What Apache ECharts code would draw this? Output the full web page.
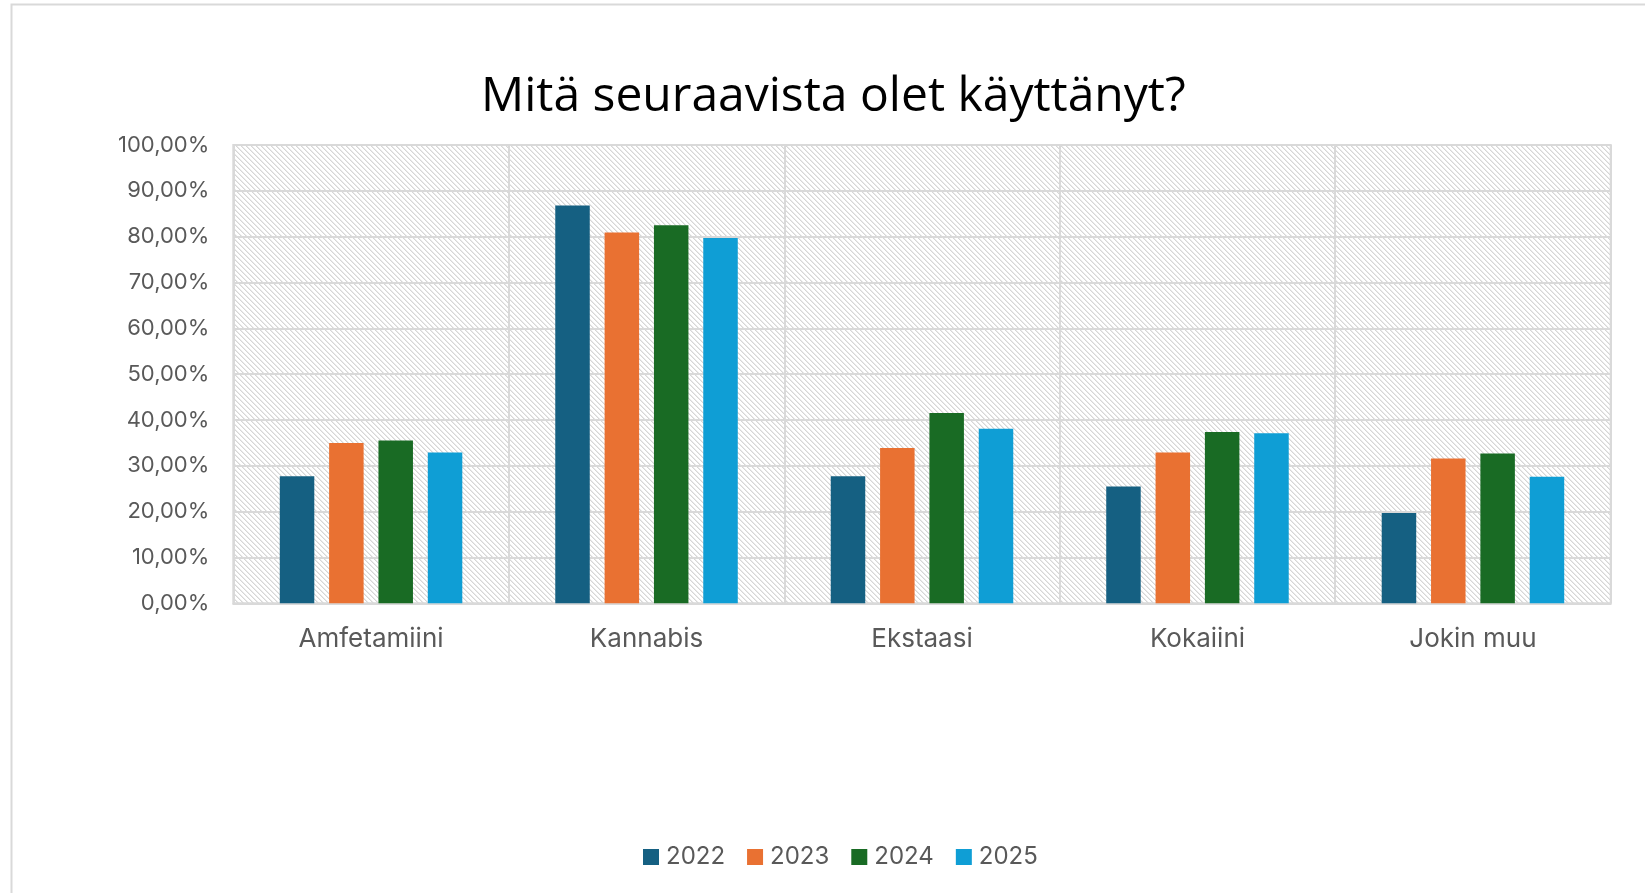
<!DOCTYPE html>
<html>
<head>
<meta charset="utf-8">
<script src="https://cdn.jsdelivr.net/npm/echarts@6/dist/echarts.min.js"></script>
<style>
  html, body { margin: 0; padding: 0; background: #ffffff; }
  #chart { width: 1645px; height: 893px; }
</style>
</head>
<body>
<div id="chart"></div>
<script>
// Survey answers by year (share of respondents, %)
const categories = ['Amfetamiini', 'Kannabis', 'Ekstaasi', 'Kokaiini', 'Jokin muu'];
const years = ['2022', '2023', '2024', '2025'];
const values2022 = [27.7, 86.8, 27.7, 25.5, 19.7];
const values2023 = [35.0, 80.9, 33.9, 32.9, 31.6];
const values2024 = [35.5, 82.5, 41.5, 37.4, 32.7];
const values2025 = [32.9, 79.7, 38.1, 37.1, 27.6];
const yearColors = ['#156082', '#E97132', '#196B24', '#0F9ED5'];

// Diagonal hatch tile for the plot background
function hatchTile() {
  const size = 5;
  const c = document.createElement('canvas');
  c.width = size; c.height = size;
  const ctx = c.getContext('2d');
  const img = ctx.createImageData(size, size);
  for (let y = 0; y < size; y++) {
    for (let x = 0; x < size; x++) {
      const d = ((x - y) % size + size) % size;
      const v = d === 0 ? 214 : (d === 1 ? 234 : 255);
      const i = (y * size + x) * 4;
      img.data[i] = v; img.data[i + 1] = v; img.data[i + 2] = v; img.data[i + 3] = 255;
    }
  }
  ctx.putImageData(img, 0, 0);
  return c;
}

const seriesValues = [values2022, values2023, values2024, values2025];
const labelFont = 'Inter, Roboto, sans-serif';
const textGrey = '#595959';
const lineGrey = '#d9d9d9';

const chart = echarts.init(document.getElementById('chart'), null, { renderer: 'canvas' });
chart.setOption({
  animation: false,
  backgroundColor: '#ffffff',
  title: {
    text: 'Mitä seuraavista olet käyttänyt?',
    left: 481,
    top: 69,
    padding: 0,
    textStyle: {
      fontFamily: '"Open Sans", "Noto Sans", sans-serif',
      fontSize: 48,
      fontWeight: 'normal',
      color: '#000000',
      lineHeight: 56
    }
  },
  graphic: [{
    type: 'rect',
    silent: true,
    shape: { x: 11.5, y: 4.5, width: 1700, height: 1000 },
    style: { fill: 'none', stroke: lineGrey, lineWidth: 2 }
  }],
  legend: {
    data: years,
    left: 643,
    top: 845,
    padding: 0,
    icon: 'rect',
    itemWidth: 16,
    itemHeight: 16,
    itemGap: 22,
    textStyle: {
      fontFamily: labelFont,
      fontSize: 24,
      lineHeight: 24,
      color: textGrey,
      padding: [0, 0, 0, 2]
    }
  },
  grid: {
    left: 233.3,
    top: 145,
    right: 34.3,
    bottom: 289.7,
    show: true,
    backgroundColor: { image: hatchTile(), repeat: 'repeat' },
    borderColor: lineGrey,
    borderWidth: 2,
    containLabel: false
  },
  xAxis: {
    type: 'category',
    data: categories,
    axisLine: { show: true, lineStyle: { color: lineGrey, width: 2 } },
    axisTick: { show: false },
    splitLine: { show: true, lineStyle: { color: lineGrey, width: 2 } },
    axisLabel: {
      margin: 23,
      fontFamily: labelFont,
      fontSize: 26,
      lineHeight: 26,
      color: textGrey
    }
  },
  yAxis: {
    type: 'value',
    min: 0,
    max: 100,
    interval: 10,
    axisLine: { show: false },
    axisTick: { show: false },
    splitLine: { show: true, lineStyle: { color: lineGrey, width: 2 } },
    axisLabel: {
      margin: 24,
      fontFamily: labelFont,
      fontSize: 22,
      color: textGrey,
      formatter: v => v.toFixed(2).replace('.', ',') + '%'
    }
  },
  series: years.map((y, i) => ({
    name: y,
    type: 'bar',
    data: seriesValues[i],
    barWidth: 34.5,
    barGap: '43%',
    itemStyle: { color: yearColors[i] }
  }))
});
</script>
</body>
</html>
